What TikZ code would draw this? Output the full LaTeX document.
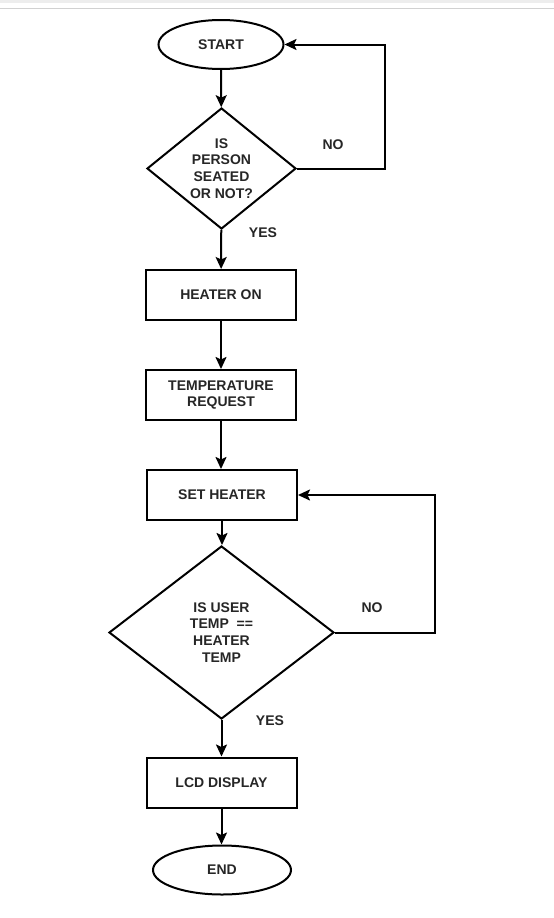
\documentclass[tikz,border=0pt]{standalone}
\usepackage{fontspec}
\setmainfont{Liberation Sans}
\usetikzlibrary{shapes.geometric,arrows.meta}

\begin{document}
\begin{tikzpicture}[x=1pt,y=1pt,
  line width=2pt,
  >={Stealth[length=12pt,width=11pt,inset=2.5pt]},
  every node/.style={font=\bfseries\fontsize{14}{16.8}\selectfont,text=black!85,align=center,inner sep=0pt},
  term/.style={draw,ellipse,minimum width=125pt,minimum height=49pt},
  proc/.style={draw,rectangle,minimum width=150pt,minimum height=50pt},
  decide/.style={draw,diamond,shape aspect=1.2}]
\useasboundingbox (0,0) rectangle (554,-918);
\fill [black!7] (0,0) rectangle (554,-3);
\draw [black!18,line width=1pt] (0,-8) -- (554,-8);
\node [term] (start) at (221,-44.5) {START};
\node [decide,minimum width=149pt,minimum height=121pt] (seated) at (221.5,-168.5) {IS\\PERSON\\SEATED\\OR NOT?};
\node [proc] (heater) at (221,-295) {HEATER ON};
\node [proc] (request) at (221,-395) {TEMPERATURE\\REQUEST};
\node [proc] (set) at (222,-495) {SET HEATER};
\node [decide,minimum width=225pt,minimum height=173pt] (equal) at (221.5,-632.5) {IS USER\\TEMP~ ==\\HEATER\\TEMP};
\node [proc] (lcd) at (221.5,-782.5) {LCD DISPLAY};
\node [term,minimum width=138pt] (end) at (222,-870) {END};
\coordinate (loopa) at (385,-44.5);
\coordinate (loopb) at (435,-495);
\node (noa) at (333,-145) {NO};
\node (yesa) at (263,-232.5) {YES};
\node (nob) at (372,-608) {NO};
\node (yesb) at (270,-720.5) {YES};
\draw [->] (start) -- (seated);
\draw [->] (seated) -- (heater);
\draw [->] (seated.east) -| (loopa) -- (start.east);
\draw [->] (heater) -- (request);
\draw [->] (request) -- (request|-set.north);
\draw [->] (set) -- (set|-equal.north);
\draw [->] (equal.east) -| (loopb) -- (set.east);
\draw [->] (equal) -- (equal|-lcd.north);
\draw [->] (lcd) -- (lcd|-end.north);
\end{tikzpicture}
\end{document}
